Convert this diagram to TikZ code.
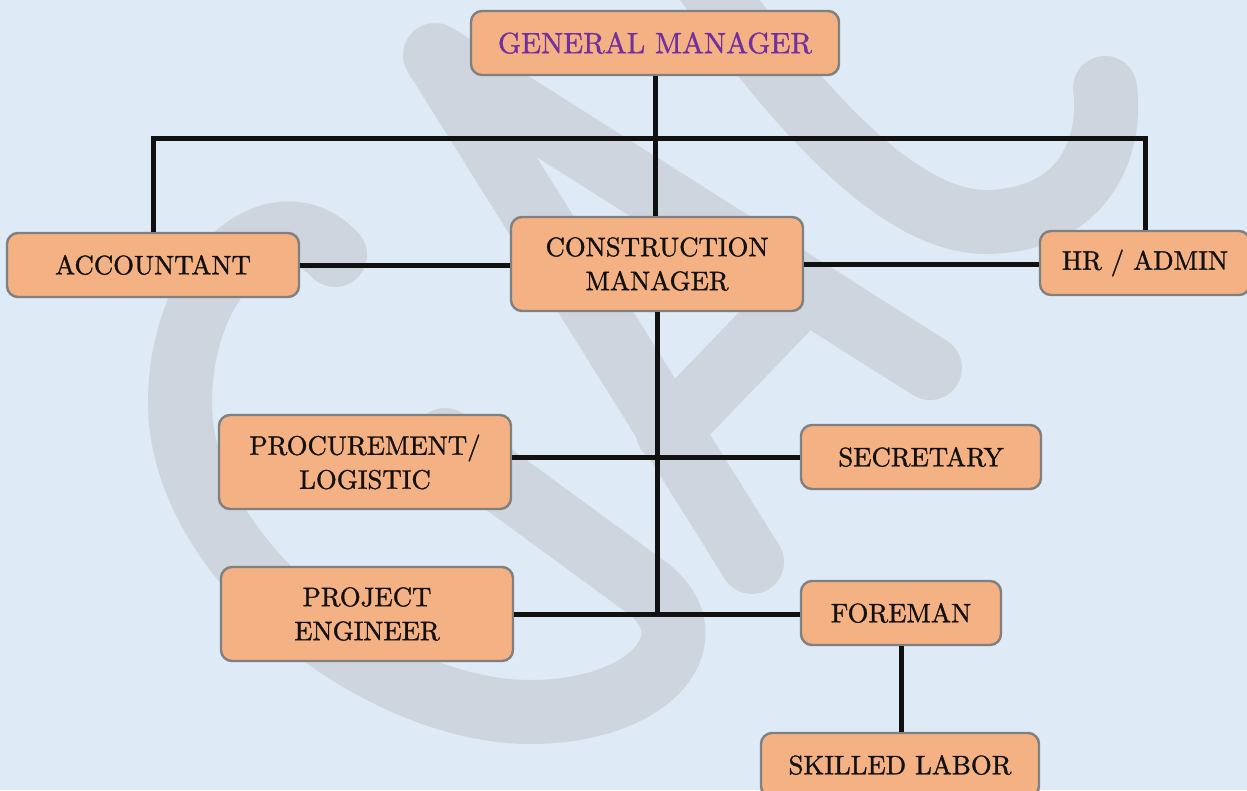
\documentclass[tikz,border=0pt]{standalone}
\usepackage{fontspec}
\setmainfont{lmroman10-regular.otf}[FakeBold=1.2]
\definecolor{bgblue}{HTML}{DEEAF6}
\definecolor{wmgray}{HTML}{CFD5DE}
\definecolor{boxfill}{HTML}{F4B183}
\definecolor{boxline}{HTML}{808080}
\definecolor{gmpurple}{HTML}{7030A0}
\definecolor{inkblack}{HTML}{111111}
\begin{document}
\begin{tikzpicture}[x=1pt,y=-1pt,
  orgbox/.style={draw=boxline, line width=2.4pt, fill=boxfill, rounded corners=11pt,
    inner sep=0pt, align=center, text=inkblack,
    font=\fontsize{26.8}{34}\selectfont},
  link/.style={draw=inkblack, line width=5pt},
  wm/.style={draw=wmgray, line width=64pt, line cap=round, line join=round}]
\useasboundingbox (0,0) rectangle (1247,790);
\fill[bgblue] (0,0) rectangle (1247,790);
% watermark logo
\begin{scope}
\clip (0,0) rectangle (1247,790);
\draw[wm] (335,255) .. controls (280,195) and (182,265) .. (180,400)
  .. controls (178,560) and (380,712) .. (530,712)
  .. controls (650,712) and (710,640) .. (650,590) -- (445,440);
\draw[wm] (435,55) -- (752,562);
\draw[wm] (440,58) -- (930,368);
\draw[wm] (805,290) -- (668,432);
\draw[wm] (705,-20) .. controls (800,110) and (900,225) .. (990,222)
  .. controls (1090,218) and (1112,140) .. (1105,88);
\end{scope}
% nodes
\node[orgbox, minimum width=368pt, minimum height=64pt, text=gmpurple,
  font=\fontsize{29.4}{34}\selectfont] (gm) at (655,43) {GENERAL MANAGER};
\node[orgbox, minimum width=292pt, minimum height=64pt] (acc) at (153,265) {ACCOUNTANT};
\node[orgbox, minimum width=292pt, minimum height=94pt] (cm) at (657,264) {CONSTRUCTION\\MANAGER};
\node[orgbox, minimum width=210pt, minimum height=64pt] (hr) at (1145,263) {HR / ADMIN};
\node[orgbox, minimum width=292pt, minimum height=94pt] (proc) at (365,462) {PROCUREMENT/\\LOGISTIC};
\node[orgbox, minimum width=240pt, minimum height=64pt] (sec) at (921,457) {SECRETARY};
\node[orgbox, minimum width=292pt, minimum height=94pt] (pe) at (367,614) {PROJECT\\ENGINEER};
\node[orgbox, minimum width=200pt, minimum height=64pt] (fore) at (901,613) {FOREMAN};
\node[orgbox, minimum width=278pt, minimum height=64pt] (sl) at (900,765) {SKILLED LABOR};
\coordinate (bus) at (655,138);
% connectors
\draw[link] (gm.south) -- (gm.south |- cm.north);
\draw[link] (acc.north) |- (bus) -| (hr.north);
\draw[link] (acc.east) -- (acc.east -| cm.west);
\draw[link] (cm.east) -- (cm.east -| hr.west);
\draw[link] (cm.south) -- (cm.south |- pe.east);
\draw[link] (sec.west) -- (sec.west -| proc.east);
\draw[link] (pe.east) -- (pe.east -| fore.west);
\draw[link] (fore.south) -- (fore.south |- sl.north);
\end{tikzpicture}
\end{document}
